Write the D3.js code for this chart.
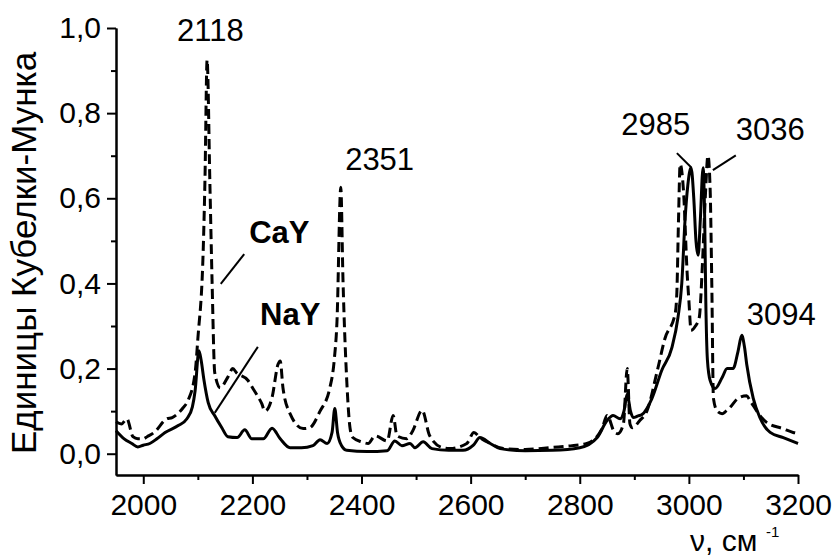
<!DOCTYPE html>
<html>
<head>
<meta charset="utf-8">
<script src="https://cdn.jsdelivr.net/npm/d3@7"></script>
<style>
  html, body { margin: 0; padding: 0; background: #fff; }
  svg { display: block; font-family: 'Liberation Sans', Arial, sans-serif; }
</style>
</head>
<body>
<svg id="chart" width="836" height="556"></svg>
<script>
// NaY (solid)
const nayNu = [1950, 1965, 1979, 1990, 2000, 2012, 2025, 2040, 2064, 2080, 2090, 2095, 2102, 2106, 2111, 2119,
  2131, 2144, 2155, 2172, 2186, 2199, 2220, 2236, 2251, 2269, 2290, 2311, 2324, 2337, 2346, 2351, 2356, 2363,
  2373, 2410, 2447, 2461, 2474, 2489, 2498, 2513, 2529, 2560, 2586, 2605, 2617, 2636, 2654, 2700, 2750, 2800,
  2832, 2850, 2861, 2874, 2881, 2887, 2893, 2898, 2907, 2914, 2932, 2950, 2969, 2980, 2987, 2993, 2998, 3004,
  3009, 3013, 3017, 3021, 3026, 3029, 3031, 3034, 3039, 3048, 3061, 3070, 3081, 3090, 3097, 3102, 3106, 3118,
  3130, 3149, 3173, 3200];
const nayKm = [0.054, 0.035, 0.024, 0.016, 0.02, 0.024, 0.035, 0.05, 0.066, 0.082, 0.11, 0.148, 0.242, 0.22, 0.175, 0.12,
  0.089, 0.061, 0.04, 0.038, 0.056, 0.035, 0.035, 0.06, 0.035, 0.014, 0.014, 0.019, 0.033, 0.024, 0.05, 0.106, 0.05, 0.02,
  0.008, 0.005, 0.007, 0.03, 0.019, 0.024, 0.014, 0.028, 0.012, 0.008, 0.008, 0.02, 0.038, 0.024, 0.012, 0.007, 0.008, 0.014,
  0.038, 0.078, 0.09, 0.082, 0.1, 0.14, 0.1, 0.085, 0.089, 0.092, 0.129, 0.195, 0.25, 0.32, 0.40, 0.55, 0.63, 0.672,
  0.6, 0.5, 0.466, 0.55, 0.672, 0.55, 0.36, 0.22, 0.172, 0.153, 0.179, 0.2, 0.2, 0.24, 0.278, 0.25, 0.21, 0.13,
  0.085, 0.05, 0.038, 0.024];

// CaY (dashed)
const cayNu = [1950, 1960, 1970, 1981, 1990, 2000, 2007, 2020, 2043, 2053, 2073, 2082, 2095, 2100, 2110, 2113, 2117,
  2122, 2126, 2131, 2141, 2155, 2164, 2171, 2192, 2201, 2217, 2223, 2236, 2247, 2251, 2256, 2269, 2293, 2305, 2324,
  2342, 2350, 2355, 2362, 2366, 2373, 2379, 2384, 2400, 2412, 2425, 2447, 2458, 2465, 2483, 2494, 2511, 2525, 2549,
  2562, 2593, 2606, 2617, 2636, 2660, 2700, 2750, 2786, 2813, 2841, 2850, 2864, 2870, 2880, 2887, 2892, 2896, 2910,
  2923, 2943, 2956, 2975, 2978, 2981, 2984, 2990, 2997, 3000, 3004, 3012, 3019, 3025, 3030, 3035, 3039, 3042, 3045,
  3052, 3061, 3068, 3075, 3090, 3106, 3112, 3130, 3143, 3172, 3191, 3200];
const cayKm = [0.075, 0.07, 0.082, 0.04, 0.035, 0.035, 0.04, 0.05, 0.082, 0.085, 0.108, 0.125, 0.19, 0.27, 0.485, 0.64, 0.925,
  0.64, 0.41, 0.19, 0.155, 0.18, 0.2, 0.19, 0.172, 0.153, 0.118, 0.1, 0.132, 0.21, 0.218, 0.155, 0.094, 0.059, 0.061, 0.1,
  0.155, 0.22, 0.31, 0.626, 0.41, 0.17, 0.06, 0.038, 0.028, 0.024, 0.042, 0.03, 0.09, 0.042, 0.035, 0.054, 0.102, 0.042, 0.014,
  0.012, 0.024, 0.05, 0.038, 0.024, 0.012, 0.01, 0.015, 0.019, 0.024, 0.059, 0.09, 0.05, 0.047, 0.07, 0.2, 0.07, 0.061, 0.078,
  0.1, 0.2, 0.27, 0.33, 0.38, 0.55, 0.68, 0.62, 0.42, 0.36, 0.29, 0.3, 0.32, 0.45, 0.6, 0.70, 0.62, 0.4, 0.13,
  0.1, 0.094, 0.1, 0.108, 0.13, 0.136, 0.125, 0.09, 0.073, 0.059, 0.05, 0.048];

const xTicks = [2000, 2200, 2400, 2600, 2800, 3000, 3200];
const xMinor = [2100, 2300, 2500, 2700, 2900, 3100];
const yTicks = [0, 0.2, 0.4, 0.6, 0.8, 1.0];
const yMinor = [0.1, 0.3, 0.5, 0.7, 0.9];

// peak labels
const labelNu = [2062, 2370, 2876, 3086, 3106, 2194, 2214];
const labelKm = [0.969, 0.667, 0.749, 0.737, 0.302, 0.495, 0.302];
const labelText = ['2118', '2351', '2985', '3036', '3094', 'CaY', 'NaY'];
const labelBold = [false, false, false, false, false, true, true];

// leader lines: [nu1, km1, nu2, km2]
const leaders = [
  [2185, 0.469, 2142, 0.399],
  [2210, 0.251, 2131, 0.096],
  [2978, 0.706, 3004, 0.673],
  [3086, 0.701, 3044, 0.666],
];

const svg = d3.select('#chart');
const x = d3.scaleLinear().domain([1950, 3200]).range([116, 798]);
const y = d3.scaleLinear().domain([-0.05, 1.0]).range([475, 28]);
const fmt = d => d3.format('.1f')(d).replace('.', ',');

const xAxis = svg.append('g').attr('transform', 'translate(0,475)')
  .call(d3.axisBottom(x).tickValues(xTicks).tickSize(9).tickSizeOuter(0).tickPadding(10).tickFormat(d3.format('d')));
const xAxisMinor = svg.append('g').attr('transform', 'translate(0,475)')
  .call(d3.axisBottom(x).tickValues(xMinor).tickSize(5).tickSizeOuter(0).tickFormat(''));
const yAxis = svg.append('g').attr('transform', 'translate(116,0)')
  .call(d3.axisLeft(y).tickValues(yTicks).tickSize(9).tickSizeOuter(0).tickPadding(6).tickFormat(fmt));
const yAxisMinor = svg.append('g').attr('transform', 'translate(116,0)')
  .call(d3.axisLeft(y).tickValues(yMinor).tickSize(5).tickSizeOuter(0).tickFormat(''));

[xAxis, xAxisMinor, yAxis, yAxisMinor].forEach(a => {
  a.selectAll('.domain').attr('stroke', '#000').attr('stroke-width', 2);
  a.selectAll('.tick line').attr('stroke', '#000').attr('stroke-width', 2);
  a.selectAll('text').attr('fill', '#000').style('font-size', '30px')
    .style('font-family', "'Liberation Sans', Arial, sans-serif");
});

const line = d3.line().x(d => x(d[0])).y(d => y(d[1])).curve(d3.curveMonotoneX);
const nay = nayNu.map((v, i) => [v, nayKm[i]]);
const cay = cayNu.map((v, i) => [v, cayKm[i]]);

svg.append('path').datum(cay).attr('d', line)
  .attr('fill', 'none').attr('stroke', '#000').attr('stroke-width', 3)
  .attr('stroke-dasharray', '10,5').attr('stroke-linejoin', 'round');
svg.append('path').datum(nay).attr('d', line)
  .attr('fill', 'none').attr('stroke', '#000').attr('stroke-width', 3).attr('stroke-linejoin', 'round');

svg.selectAll('.leader').data(leaders).enter().append('line')
  .attr('x1', d => x(d[0])).attr('y1', d => y(d[1]))
  .attr('x2', d => x(d[2])).attr('y2', d => y(d[3]))
  .attr('stroke', '#000').attr('stroke-width', 2);

svg.selectAll('.peak').data(labelText).enter().append('text')
  .attr('x', (d, i) => x(labelNu[i])).attr('y', (d, i) => y(labelKm[i]))
  .style('font-size', '31px').style('font-weight', (d, i) => labelBold[i] ? 'bold' : 'normal')
  .attr('fill', '#000').text(d => d);

// axis titles
svg.append('text')
  .attr('transform', 'translate(36,253) rotate(-90)')
  .attr('text-anchor', 'middle').style('font-size', '35px').attr('fill', '#000')
  .text('Единицы Кубелки-Мунка');

const xt = svg.append('text').attr('x', 690).attr('y', 551).style('font-size', '30px').attr('fill', '#000');
xt.append('tspan').text('ν, см');
const sup = svg.append('text').attr('x', 766).attr('y', 537).style('font-size', '15px').attr('fill', '#000').text('-1');
</script>
</body>
</html>
